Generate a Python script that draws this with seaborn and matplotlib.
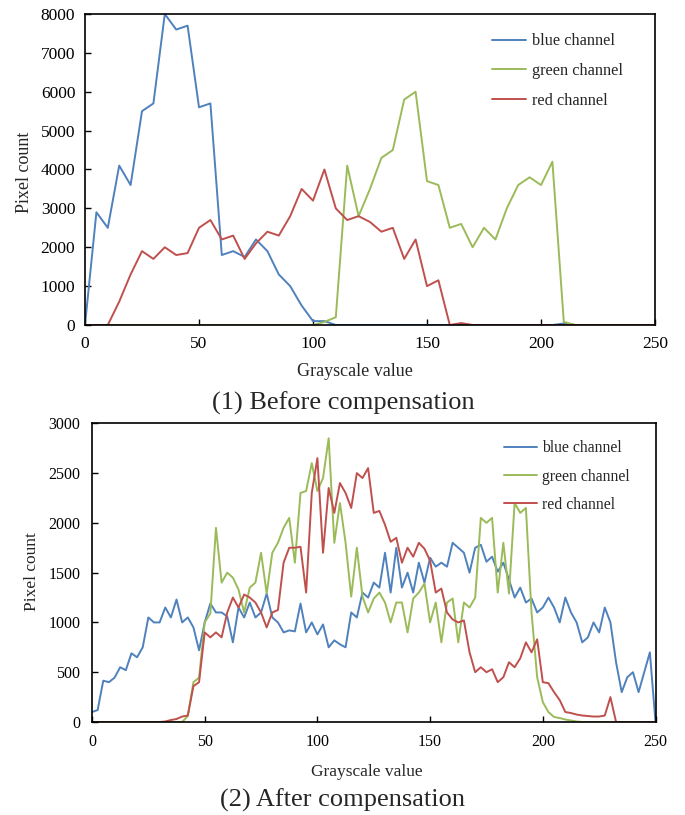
import numpy as np
import pandas as pd
import matplotlib
matplotlib.use("Agg")
import matplotlib.pyplot as plt
import seaborn as sns

# Гістограми каналів до компенсації (крок 5)
gray_before = np.arange(0, 251, 5)
blue_before = [0, 2900, 2500, 4100, 3600, 5500, 5700, 8000, 7600, 7700,
               5600, 5700, 1800, 1900, 1750, 2200, 1900, 1300, 1000, 500,
               100, 100, 0, 0, 0, 0, 0, 0, 0, 0,
               0, 0, 0, 0, 0, 0, 0, 0, 0, 0,
               0, 0, 40, 0, 0, 0, 0, 0, 0, 0, 0]
green_before = [0, 0, 0, 0, 0, 0, 0, 0, 0, 0,
                0, 0, 0, 0, 0, 0, 0, 0, 0, 0,
                0, 80, 200, 4100, 2800, 3500, 4300, 4500, 5800, 6000,
                3700, 3600, 2500, 2600, 2000, 2500, 2200, 3000, 3600, 3800,
                3600, 4200, 80, 0, 0, 0, 0, 0, 0, 0, 0]
red_before = [0, 0, 0, 600, 1300, 1900, 1700, 2000, 1800, 1850,
              2500, 2700, 2200, 2300, 1700, 2100, 2400, 2300, 2800, 3500,
              3200, 4000, 3000, 2700, 2800, 2650, 2400, 2500, 1700, 2200,
              1000, 1150, 0, 50, 0, 0, 0, 0, 0, 0,
              0, 0, 0, 0, 0, 0, 0, 0, 0, 0, 0]

# Гістограми каналів після компенсації (крок 2.5)
gray_after = np.arange(0, 250.1, 2.5)
blue_after = [100, 120, 415, 400, 445, 550, 520, 690, 650, 750,
              1050, 1000, 1000, 1150, 1050, 1230, 1000, 1050, 950, 720,
              1000, 1190, 1100, 1100, 1060, 800, 1150, 1050, 1200, 1050,
              1100, 1290, 1050, 1000, 900, 920, 910, 1190, 900, 1000,
              880, 980, 750, 820, 780, 750, 1100, 1050, 1300, 1250,
              1400, 1350, 1700, 1300, 1750, 1350, 1500, 1300, 1600, 1400,
              1650, 1560, 1600, 1560, 1800, 1750, 1700, 1500, 1750, 1780,
              1610, 1660, 1510, 1600, 1430, 1250, 1350, 1200, 1240, 1100,
              1150, 1250, 1150, 1000, 1250, 1100, 1000, 800, 850, 1000,
              900, 1150, 1000, 600, 300, 450, 500, 300, 500, 700,
              0]
green_after = [0, 0, 0, 0, 0, 0, 0, 0, 0, 0,
               0, 0, 0, 0, 0, 0, 0, 60, 400, 445,
               1000, 1090, 1950, 1400, 1500, 1450, 1330, 1100, 1350, 1400,
               1700, 1290, 1700, 1800, 1950, 2050, 1600, 2300, 2320, 2600,
               2320, 2450, 2850, 1800, 2200, 1800, 1260, 1750, 1260, 1100,
               1240, 1300, 1200, 1000, 1200, 1200, 900, 1240, 1300, 1390,
               1000, 1200, 800, 1200, 1240, 800, 1200, 1150, 1250, 2050,
               2000, 2050, 1300, 1800, 1290, 2200, 2100, 2150, 1100, 450,
               200, 100, 50, 40, 25, 15, 5, 0, 0, 0,
               0, 0, 0, 0, 0, 0, 0, 0, 0, 0,
               0]
red_after = [0, 0, 0, 0, 0, 0, 0, 0, 0, 0,
             0, 0, 0, 5, 20, 30, 55, 65, 360, 400,
             900, 850, 900, 850, 1100, 1250, 1150, 1280, 1250, 1200,
             1100, 950, 1100, 1125, 1600, 1750, 1750, 1760, 1300, 2300,
             2650, 1700, 2350, 2100, 2400, 2300, 2150, 2500, 2450, 2550,
             2100, 2120, 1980, 1810, 1850, 1600, 1750, 1660, 1800, 1740,
             1620, 1300, 1340, 1100, 1030, 1000, 1020, 700, 500, 550,
             500, 530, 400, 450, 600, 550, 640, 800, 700, 830,
             400, 390, 300, 220, 100, 90, 75, 65, 60, 55,
             55, 65, 250, 0, 0, 0, 0, 0, 0, 0,
             0]

channels = ["blue channel", "green channel", "red channel"]
colors = ["#4F81BD", "#9BBB59", "#C0504D"]


def long_table(x, series):
    parts = []
    for name, vals in zip(channels, series):
        parts.append(pd.DataFrame({"gray": x, "count": vals, "channel": name}))
    return pd.concat(parts, ignore_index=True)


df_before = long_table(gray_before, [blue_before, green_before, red_before])
df_after = long_table(gray_after, [blue_after, green_after, red_after])

sns.set_style("white")
plt.rcParams["font.family"] = ["Liberation Serif", "DejaVu Serif"]

fig = plt.figure(figsize=(6.85, 8.15), dpi=100)
ax1 = fig.add_axes([85 / 685, 1 - 325 / 815, 570 / 685, 311 / 815])
ax2 = fig.add_axes([92 / 685, 1 - 722 / 815, 563.5 / 685, 298.7 / 815])

# (вісь, дані, максимум y, крок y, розмір підписів, відступи, легенда)
panels = [
    (ax1, df_before, 8000, 1000, 12.5, 8, 7, (0.689, 0.985), 11.7, 0.85),
    (ax2, df_after, 3000, 500, 11.5, 9, 8.5, (0.706, 0.99), 11.3, 0.78),
]
for ax, data, ymax, ystep, fs, padx, pady, anchor, lfs, lsp in panels:
    sns.lineplot(data=data, x="gray", y="count", hue="channel",
                 hue_order=channels, palette=colors, linewidth=1.4, ax=ax)
    ax.set_xlim(0, 250)
    ax.set_ylim(0, ymax)
    ax.set_xticks(np.arange(0, 251, 50))
    ax.set_yticks(np.arange(0, ymax + 1, ystep))
    ax.tick_params(direction="in", length=4, width=1,
                   labelsize=fs, colors="black", bottom=True, left=True)
    ax.tick_params(axis="x", pad=padx)
    ax.tick_params(axis="y", pad=pady)
    for sp in ax.spines.values():
        sp.set_visible(True)
        sp.set_color("black")
        sp.set_linewidth(1.2)
    ax.set_xlabel("")
    ax.set_ylabel("")
    sns.move_legend(ax, "upper left", bbox_to_anchor=anchor, frameon=False,
                    title=None, fontsize=lfs, handlelength=2.1,
                    handletextpad=0.35, labelspacing=lsp)

# Підписи осей і заголовки панелей
fig.text(355 / 685, 1 - 372 / 815, "Grayscale value", ha="center", va="center", fontsize=13)
fig.text(25 / 685, 1 - 172 / 815, "Pixel count", ha="center", va="center",
         rotation=90, fontsize=13)
fig.text(343 / 685, 1 - 403 / 815, "(1) Before compensation", ha="center",
         va="center", fontsize=19)

fig.text(367 / 685, 1 - 772 / 815, "Grayscale value", ha="center", va="center", fontsize=12.5)
fig.text(32 / 685, 1 - 572 / 815, "Pixel count", ha="center", va="center",
         rotation=90, fontsize=12.5)
fig.text(342 / 685, 1 - 800 / 815, "(2) After compensation", ha="center",
         va="center", fontsize=19)

fig.savefig("out.png", dpi=100)
